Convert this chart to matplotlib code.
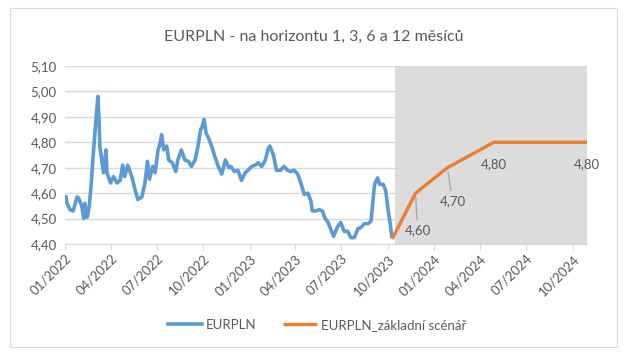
import matplotlib
matplotlib.use("Agg")
import matplotlib.pyplot as plt
import matplotlib.dates as mdates
import pandas as pd
from matplotlib.patches import Rectangle
from matplotlib.ticker import FuncFormatter, MultipleLocator

plt.rcParams['font.family'] = ['Lato', 'DejaVu Sans']

# EURPLN - skutečný vývoj
eurpln_data = [
    ("2022-01-03", 4.585), ("2022-01-05", 4.56), ("2022-01-11", 4.535), ("2022-01-17", 4.53),
    ("2022-01-20", 4.55), ("2022-01-25", 4.585), ("2022-01-28", 4.58), ("2022-02-03", 4.55),
    ("2022-02-07", 4.50), ("2022-02-09", 4.56), ("2022-02-14", 4.505), ("2022-02-18", 4.55),
    ("2022-02-22", 4.64), ("2022-02-25", 4.73), ("2022-03-01", 4.835), ("2022-03-07", 4.98),
    ("2022-03-09", 4.90), ("2022-03-11", 4.78), ("2022-03-14", 4.74), ("2022-03-18", 4.68),
    ("2022-03-23", 4.77), ("2022-03-25", 4.68), ("2022-04-01", 4.64), ("2022-04-07", 4.665),
    ("2022-04-14", 4.64), ("2022-04-20", 4.65), ("2022-04-25", 4.71), ("2022-04-29", 4.665),
    ("2022-05-05", 4.71), ("2022-05-13", 4.665), ("2022-05-20", 4.61), ("2022-05-25", 4.575),
    ("2022-06-02", 4.585), ("2022-06-08", 4.64), ("2022-06-13", 4.725), ("2022-06-17", 4.655),
    ("2022-06-23", 4.705), ("2022-06-28", 4.68), ("2022-07-04", 4.77), ("2022-07-08", 4.795),
    ("2022-07-11", 4.83), ("2022-07-15", 4.77), ("2022-07-21", 4.785), ("2022-07-25", 4.73),
    ("2022-08-01", 4.72), ("2022-08-08", 4.685), ("2022-08-12", 4.73), ("2022-08-19", 4.77),
    ("2022-08-26", 4.73), ("2022-09-02", 4.725), ("2022-09-08", 4.705), ("2022-09-15", 4.73),
    ("2022-09-21", 4.785), ("2022-09-26", 4.85), ("2022-09-29", 4.86), ("2022-10-03", 4.89),
    ("2022-10-07", 4.835), ("2022-10-11", 4.82), ("2022-10-18", 4.785), ("2022-10-24", 4.745),
    ("2022-10-31", 4.705), ("2022-11-07", 4.675), ("2022-11-14", 4.73), ("2022-11-21", 4.70),
    ("2022-11-25", 4.705), ("2022-12-02", 4.685), ("2022-12-09", 4.69), ("2022-12-16", 4.65),
    ("2022-12-23", 4.68), ("2022-12-29", 4.69), ("2023-01-05", 4.705), ("2023-01-12", 4.71),
    ("2023-01-18", 4.72), ("2023-01-25", 4.705), ("2023-02-01", 4.73), ("2023-02-07", 4.775),
    ("2023-02-10", 4.785), ("2023-02-17", 4.75), ("2023-02-23", 4.69), ("2023-03-03", 4.69),
    ("2023-03-10", 4.705), ("2023-03-17", 4.69), ("2023-03-23", 4.685), ("2023-03-30", 4.69),
    ("2023-04-06", 4.675), ("2023-04-13", 4.635), ("2023-04-19", 4.595), ("2023-04-26", 4.60),
    ("2023-05-02", 4.57), ("2023-05-05", 4.53), ("2023-05-12", 4.53), ("2023-05-19", 4.535),
    ("2023-05-25", 4.53), ("2023-05-29", 4.505), ("2023-06-05", 4.485), ("2023-06-12", 4.45),
    ("2023-06-16", 4.43), ("2023-06-23", 4.465), ("2023-06-30", 4.485), ("2023-07-07", 4.45),
    ("2023-07-14", 4.45), ("2023-07-20", 4.425), ("2023-07-27", 4.425), ("2023-08-03", 4.46),
    ("2023-08-09", 4.465), ("2023-08-16", 4.48), ("2023-08-23", 4.48), ("2023-08-29", 4.49),
    ("2023-09-05", 4.635), ("2023-09-11", 4.66), ("2023-09-15", 4.635), ("2023-09-22", 4.635),
    ("2023-09-27", 4.61), ("2023-10-02", 4.53), ("2023-10-06", 4.48), ("2023-10-09", 4.43),
]
eurpln_dates = pd.to_datetime([d for d, v in eurpln_data])
eurpln_values = [v for d, v in eurpln_data]

# základní scénář - horizont 1, 3, 6 a 12 měsíců
scenar_dates = pd.to_datetime(["2023-10-10", "2023-11-25", "2024-01-27", "2024-04-28", "2024-10-29"])
scenar_values = [4.42, 4.60, 4.70, 4.80, 4.80]
scenar_labels = ["", "4,60", "4,70", "4,80", "4,80"]

prognoza_od = pd.Timestamp("2023-10-15")
osa_od = pd.Timestamp("2022-01-01")
osa_do = pd.Timestamp("2024-10-29")

seda_text = '#595959'

fig = plt.figure(figsize=(6.27, 3.57), dpi=100)
fig.patches.append(Rectangle((10 / 627, 1 - 347 / 357), 607 / 627, 339 / 357,
                             transform=fig.transFigure, fill=False,
                             edgecolor='#d9d9d9', linewidth=0.8))
ax = fig.add_axes([65 / 627, 1 - 244 / 357, 522 / 627, 178 / 357])

ax.axvspan(prognoza_od, osa_do, color='#dcdcdc', zorder=0, linewidth=0)
ax.grid(axis='y', color='#d9d9d9', linewidth=1, zorder=1)
ax.set_axisbelow(False)

ax.plot(eurpln_dates, eurpln_values, color='#5B9BD5', linewidth=2.6, label='EURPLN', zorder=3)
ax.plot(scenar_dates, scenar_values, color='#ED7D31', linewidth=2.4,
        label='EURPLN_základní scénář', zorder=4, solid_capstyle='butt')

# popisky hodnot
offsety = [None, (2, -37), (5, -33), (0, -22), (0, -22)]
for d, v, txt, off in zip(scenar_dates, scenar_values, scenar_labels, offsety):
    if not txt:
        continue
    if off[1] < -30:
        ax.annotate(txt, (d, v), xytext=off, textcoords='offset pixels',
                    ha='center', va='center', fontsize=9.5, color=seda_text,
                    annotation_clip=False, zorder=5,
                    arrowprops=dict(arrowstyle='-', color='#a6a6a6', lw=0.9,
                                    shrinkA=1, shrinkB=3))
    else:
        ax.annotate(txt, (d, v), xytext=off, textcoords='offset pixels',
                    ha='center', va='center', fontsize=9.5, color=seda_text,
                    annotation_clip=False, zorder=5)

ax.set_xlim(osa_od, osa_do)
ax.set_ylim(4.40, 5.10)
ax.yaxis.set_major_locator(MultipleLocator(0.1))
ax.yaxis.set_major_formatter(FuncFormatter(lambda y, p: f"{y:.2f}".replace('.', ',')))
ax.xaxis.set_major_locator(mdates.MonthLocator(bymonth=[1, 4, 7, 10]))
ax.xaxis.set_major_formatter(mdates.DateFormatter('%m/%Y'))

for s in ['top', 'right', 'left']:
    ax.spines[s].set_visible(False)
ax.spines['bottom'].set_color('#d9d9d9')
ax.spines['bottom'].set_zorder(2)
ax.tick_params(axis='y', length=0, labelsize=9.5, labelcolor=seda_text, pad=6)
ax.tick_params(axis='x', length=4, color='#d9d9d9', labelsize=9.5, labelcolor=seda_text, pad=2)
plt.setp(ax.get_xticklabels(), rotation=45, ha='right', rotation_mode='anchor')

fig.text(0.5, 1 - 37 / 357, 'EURPLN - na horizontu 1, 3, 6 a 12 měsíců',
         ha='center', va='center', fontsize=11.5, color=seda_text)

fig.legend(loc='center', bbox_to_anchor=(317 / 627, 1 - 325 / 357), ncol=2, frameon=False,
           fontsize=9.5, labelcolor=seda_text, handlelength=2.6, handletextpad=0.3,
           columnspacing=2.0)

fig.savefig('out.png', dpi=100)
